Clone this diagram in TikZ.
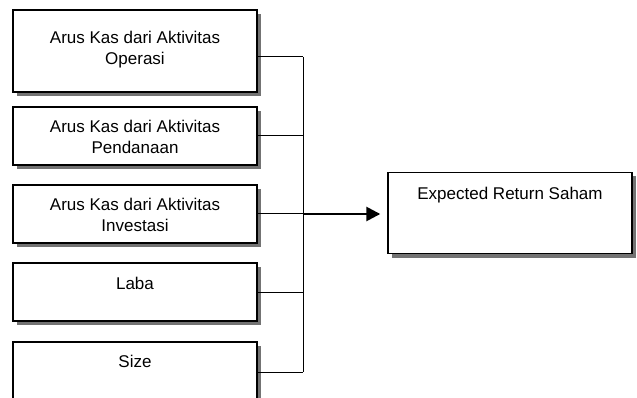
\documentclass[tikz,border=0pt]{standalone}
\usepackage{fontspec}
\setmainfont{Liberation Sans}
\usetikzlibrary{arrows.meta,shadows}
\begin{document}
\begin{tikzpicture}[x=1pt,y=-1pt,
  box/.style={draw=black, line width=1.4pt, fill=white, minimum width=244pt, inner sep=0pt,
    drop shadow={shadow xshift=4pt, shadow yshift=-4pt, fill=black!55, opacity=1}},
  lbl/.style={anchor=base, inner sep=0pt, font=\fontsize{17}{20}\selectfont},
  conn/.style={draw=black, line width=1pt},
  arr/.style={draw=black, line width=2.6pt, shorten >=7pt, -{Triangle[length=14pt,width=14pt]}}]
\useasboundingbox (0,0) rectangle (637,398);
\clip (0,0) rectangle (637,398);
\fill[white] (0,0) rectangle (637,398);
% boxes
\node[box, minimum height=82pt] (b1) at (135,51) {};
\node[box, minimum height=58pt] (b2) at (135,136) {};
\node[box, minimum height=58pt] (b3) at (135,214) {};
\node[box, minimum height=58pt] (b4) at (135,292) {};
\node[box, minimum height=60pt] (b5) at (135,372) {};
\node[box, minimum width=244pt, minimum height=81pt] (t) at (510,213) {};
% labels
\node[lbl] (l1a) at (135,43.3) {Arus Kas dari Aktivitas};
\node[lbl] (l1b) at (135,65) {Operasi};
\node[lbl] (l2a) at (135,133) {Arus Kas dari Aktivitas};
\node[lbl] (l2b) at (135,154) {Pendanaan};
\node[lbl] (l3a) at (135,210.5) {Arus Kas dari Aktivitas};
\node[lbl] (l3b) at (135,231.7) {Investasi};
\node[lbl] (l4) at (135,289.3) {Laba};
\node[lbl] (l5) at (135,367.3) {Size};
\node[lbl] (lt) at (510,200) {Expected Return Saham};
% bus
\coordinate (bus) at (303,0);
\coordinate (c1) at ([yshift=-6pt]b1.east);
\draw[conn] (c1) -- (c1 -| bus);
\draw[conn] (b2.east) -- (b2.east -| bus);
\draw[conn] (b3.east) -- (b3.east -| bus);
\draw[conn] (b4.east) -- (b4.east -| bus);
\draw[conn] (b5.east) -- (b5.east -| bus);
\draw[conn] (c1 -| bus) -- (b5.east -| bus);
\draw[arr] (b3.east -| bus) -- (b3.east -| t.west);
\end{tikzpicture}
\end{document}
